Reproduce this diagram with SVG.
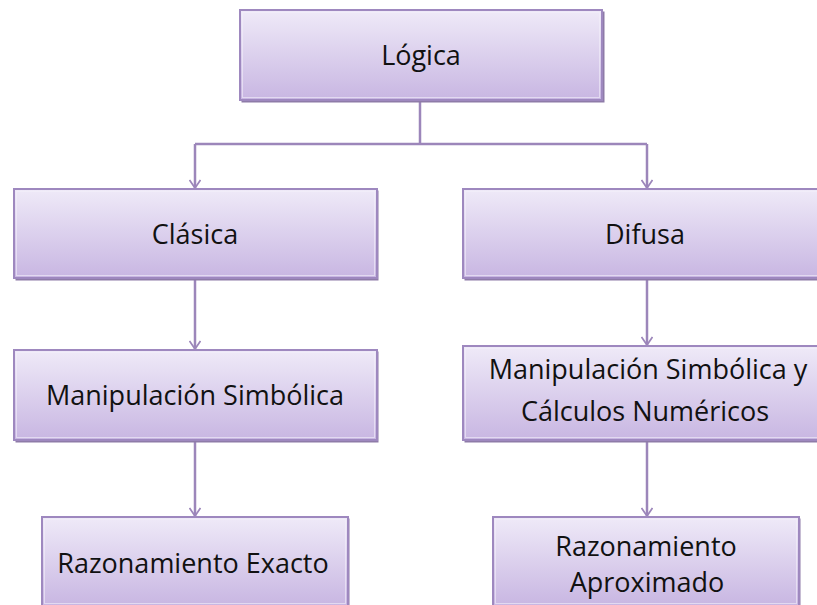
<svg xmlns="http://www.w3.org/2000/svg" width="817" height="605" viewBox="0 0 817 605">
<defs>
<linearGradient id="g" x1="0" y1="0" x2="0" y2="1">
<stop offset="0" stop-color="#EFEAF8"/>
<stop offset="1" stop-color="#C8B6E2"/>
</linearGradient>
<marker id="arr" viewBox="0 0 10 12" refX="9" refY="6" markerWidth="10" markerHeight="12" markerUnits="userSpaceOnUse" orient="auto">
<path d="M1,0.5 L9,6 L1,11.5" fill="none" stroke="#9C86BA" stroke-width="1.8"/>
</marker>
</defs>
<style>
.box{fill:url(#g);stroke:#9E88BF;stroke-width:2}
.sh{fill:#8E7BA8}
.in{fill:none;stroke:#F4F0FA;stroke-opacity:0.6;stroke-width:1}
.t{font-family:"Open Sans","Noto Sans","DejaVu Sans",sans-serif;font-size:27px;fill:#111111;text-anchor:middle}
.c{fill:none;stroke:#9C86BA;stroke-width:2.5}
</style>
<rect width="817" height="605" fill="#FFFFFF"/>
<g id="connectors">
<path class="c" d="M420,101 V144 M195,144 H647"/>
<path class="c" d="M195,144 V188" marker-end="url(#arr)"/>
<path class="c" d="M647,144 V188" marker-end="url(#arr)"/>
<path class="c" d="M195,280 V349" marker-end="url(#arr)"/>
<path class="c" d="M647,280 V345" marker-end="url(#arr)"/>
<path class="c" d="M195,442 V516" marker-end="url(#arr)"/>
<path class="c" d="M647,442 V516" marker-end="url(#arr)"/>
</g>
<g id="logica">
<rect class="sh" x="241.5" y="11.5" width="363" height="91"/>
<rect class="box" x="240" y="10" width="362" height="90"/>
<rect class="in" x="242.5" y="12.5" width="357" height="85"/>
<text class="t" x="421" y="65">Lógica</text>
</g>
<g id="clasica">
<rect class="sh" x="15.5" y="190.5" width="363" height="90"/>
<rect class="box" x="14" y="189" width="363" height="89"/>
<rect class="in" x="16.5" y="191.5" width="358" height="84"/>
<text class="t" x="195" y="244">Clásica</text>
</g>
<g id="difusa">
<rect class="sh" x="464.5" y="190.5" width="363" height="90"/>
<rect class="box" x="463" y="189" width="363" height="89"/>
<rect class="in" x="465.5" y="191.5" width="358" height="84"/>
<text class="t" x="645" y="244">Difusa</text>
</g>
<g id="manipulacion">
<rect class="sh" x="15.5" y="351.5" width="363" height="91"/>
<rect class="box" x="14" y="350" width="363" height="90"/>
<rect class="in" x="16.5" y="352.5" width="358" height="85"/>
<text class="t" x="195" y="405">Manipulación Simbólica</text>
</g>
<g id="manipulacion-calculos">
<rect class="sh" x="464.5" y="347.5" width="363" height="95"/>
<rect class="box" x="463" y="346" width="363" height="94"/>
<rect class="in" x="465.5" y="348.5" width="358" height="89"/>
<text class="t" x="648" y="379">Manipulación Simbólica y</text>
<text class="t" x="645" y="421">Cálculos Numéricos</text>
</g>
<g id="exacto">
<rect class="sh" x="43.5" y="518.5" width="306" height="90"/>
<rect class="box" x="42" y="517" width="306" height="89"/>
<rect class="in" x="44.5" y="519.5" width="301" height="84"/>
<text class="t" x="193" y="573">Razonamiento Exacto</text>
</g>
<g id="aproximado">
<rect class="sh" x="494.5" y="518.5" width="306" height="90"/>
<rect class="box" x="493" y="517" width="306" height="89"/>
<rect class="in" x="495.5" y="519.5" width="301" height="84"/>
<text class="t" x="646" y="556">Razonamiento</text>
<text class="t" x="647" y="592">Aproximado</text>
</g>
</svg>
